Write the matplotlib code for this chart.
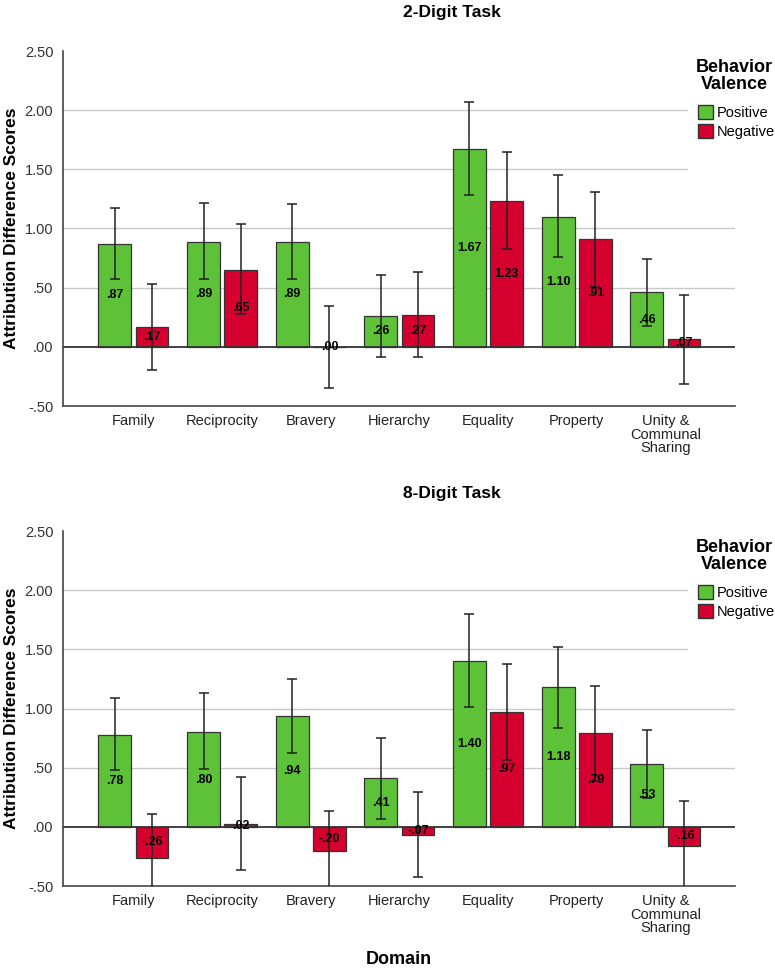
import numpy as np
import matplotlib.pyplot as plt
from matplotlib.patches import Rectangle, Patch

plt.rcParams['font.family'] = ['Liberation Sans', 'DejaVu Sans']

domains = ['Family', 'Reciprocity', 'Bravery', 'Hierarchy', 'Equality',
           'Property', 'Unity &\nCommunal\nSharing']

# 2-Digit task
pos2 = [0.87, 0.89, 0.89, 0.26, 1.67, 1.10, 0.46]
neg2 = [0.17, 0.65, 0.00, 0.27, 1.23, 0.91, 0.07]
pos2_lo = [0.575, 0.575, 0.575, -0.085, 1.28, 0.76, 0.177]
pos2_hi = [1.175, 1.214, 1.206, 0.603, 2.07, 1.448, 0.744]
neg2_lo = [-0.197, 0.276, -0.346, -0.085, 0.828, 0.507, -0.31]
neg2_hi = [0.535, 1.034, 0.341, 0.631, 1.645, 1.307, 0.442]

# 8-Digit task
pos8 = [0.78, 0.80, 0.94, 0.41, 1.40, 1.18, 0.53]
neg8 = [-0.26, 0.02, -0.20, -0.07, 0.97, 0.79, -0.16]
pos8_lo = [0.48, 0.49, 0.628, 0.068, 1.014, 0.837, 0.24]
pos8_hi = [1.09, 1.13, 1.25, 0.752, 1.80, 1.52, 0.82]
neg8_lo = [-0.63, -0.363, -0.535, -0.428, 0.563, 0.39, -0.54]
neg8_hi = [0.107, 0.417, 0.135, 0.293, 1.38, 1.194, 0.22]

yticks = [-0.5, 0.0, 0.5, 1.0, 1.5, 2.0, 2.5]
ytick_labels = ['-.50', '.00', '.50', '1.00', '1.50', '2.00', '2.50']

green = '#5dc238'
red = '#d6002f'

W, H = 775, 972
fig = plt.figure(figsize=(W / 100, H / 100), dpi=100)


def fmt(v):
    s = '%.2f' % v
    return s.replace('0.', '.', 1) if abs(v) < 1 else s


def panel(top_px, title, pos, neg, plo, phi, nlo, nhi, show_xlabel):
    ax = fig.add_axes([63 / W, 1 - (top_px + 355) / H, 672 / W, 355 / H])
    x = np.arange(len(domains))
    off, bw = 0.21, 0.37
    for vals, lo, hi, c, dx in [(pos, plo, phi, green, -off), (neg, nlo, nhi, red, off)]:
        vals = np.array(vals)
        ax.bar(x + dx, vals, bw, color=c, edgecolor='#333333', linewidth=0.9, zorder=2)
        err = [vals - np.array(lo), np.array(hi) - vals]
        ax.errorbar(x + dx, vals, yerr=err, fmt='none', ecolor='#222222',
                    elinewidth=1.1, capsize=3.8, capthick=1.1, zorder=3)
        for xi, v in zip(x + dx, vals):
            ax.text(xi, v / 2, fmt(v), ha='center', va='center', fontsize=9,
                    fontweight='bold', color='black', zorder=4)
    ax.set_xlim(-0.795, 6.785)
    ax.set_ylim(-0.5, 2.5)
    ax.set_yticks(yticks)
    ax.set_yticklabels(ytick_labels, fontsize=10.5, color='#333333')
    ax.set_xticks(x)
    ax.set_xticklabels(domains, fontsize=10.5, color='#222222', linespacing=0.95)
    ax.tick_params(length=0, pad=6)
    ax.tick_params(axis='y', pad=7)
    for y in [0.5, 1.0, 1.5, 2.0]:
        ax.axhline(y, color='#c8c8c8', lw=1, zorder=0)
    ax.axhline(0, color='#333333', lw=1.3, zorder=2.5)
    for s in ['top', 'right']:
        ax.spines[s].set_visible(False)
    for s in ['left', 'bottom']:
        ax.spines[s].set_color('#444444')
        ax.spines[s].set_linewidth(1.2)
    ax.set_ylabel('Attribution Difference Scores', fontsize=12.5, fontweight='bold')
    ax.yaxis.set_label_coords(-0.066, 0.5)
    fig.text(452 / W, 1 - (top_px - 38) / H, title, ha='center', va='center',
             fontsize=12.5, fontweight='bold')
    if show_xlabel:
        ax.set_xlabel('Domain', fontsize=13, fontweight='bold', labelpad=11)
    # white box behind legend
    fig.patches.append(Rectangle((688 / W, 1 - (top_px + 140) / H), (W - 688) / W, 135 / H,
                                 transform=fig.transFigure, facecolor='white',
                                 edgecolor='none', zorder=1))
    fig.text(734 / W, 1 - (top_px + 25) / H, 'Behavior\nValence', ha='center',
             va='center', fontsize=13, fontweight='bold', linespacing=0.95, zorder=5)
    handles = [Patch(facecolor=green, edgecolor='#333333', label='Positive'),
               Patch(facecolor=red, edgecolor='#333333', label='Negative')]
    leg = fig.legend(handles=handles, loc='upper left',
                     bbox_to_anchor=(695 / W, 1 - (top_px + 51) / H), frameon=False,
                     fontsize=10.5, handlelength=1.05, handleheight=1.1,
                     handletextpad=0.25, labelspacing=0.3, borderpad=0.2,
                     borderaxespad=0)
    leg.set_zorder(5)
    return ax


panel(51, '2-Digit Task', pos2, neg2, pos2_lo, pos2_hi, neg2_lo, neg2_hi, False)
panel(531, '8-Digit Task', pos8, neg8, pos8_lo, pos8_hi, neg8_lo, neg8_hi, True)

fig.savefig('out.png', dpi=100)
